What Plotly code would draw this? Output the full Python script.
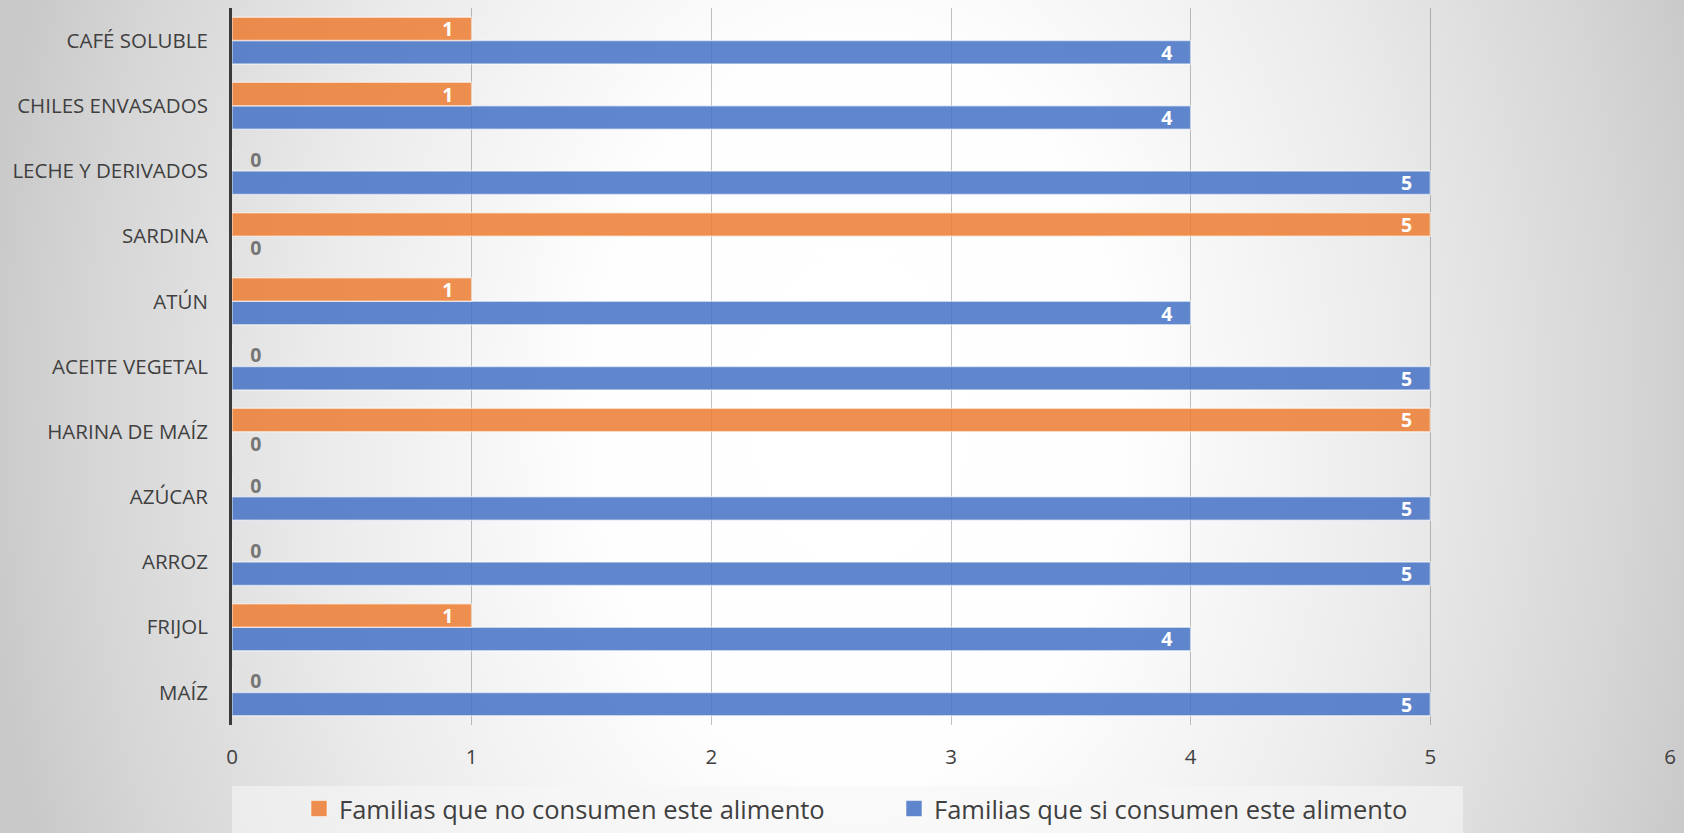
import base64
import plotly.graph_objects as go

# Food categories, bottom to top as plotted
categorias = ["MAÍZ", "FRIJOL", "ARROZ", "AZÚCAR", "HARINA DE MAÍZ", "ACEITE VEGETAL",
              "ATÚN", "SARDINA", "LECHE Y DERIVADOS", "CHILES ENVASADOS", "CAFÉ SOLUBLE"]
no_consumen = [0, 1, 0, 0, 5, 0, 1, 5, 0, 1, 1]
si_consumen = [5, 4, 5, 5, 0, 5, 4, 0, 5, 4, 4]
nombre_no = "Familias que no consumen este alimento"
nombre_si = "Familias que si consumen este alimento"
ticks_x = [0, 1, 2, 3, 4, 5, 6]

W, H = 1684, 833
ML, MR, MT, MB = 232, 14, 8, 108
PW, PH = W - ML - MR, H - MT - MB

FONT = "Open Sans"
TXT = "#404040"
AZUL = "rgba(68,114,196,0.85)"
NARANJA = "rgba(237,125,49,0.85)"
BORDE = "rgba(255,255,255,0.55)"


def etiquetas(vals):
    # value label text, padded so it sits off the bar end / axis
    return [f"{v}   " if v > 0 else f"   {v}" for v in vals]


def posiciones(vals):
    return ["inside" if v > 0 else "outside" for v in vals]


def barras(vals, nombre, color):
    return go.Bar(
        y=categorias, x=vals, orientation="h", name=nombre, showlegend=False,
        marker=dict(color=color, line=dict(color=BORDE, width=1.5)),
        text=etiquetas(vals), textposition=posiciones(vals),
        insidetextanchor="end", textangle=0, constraintext="none", cliponaxis=False,
        insidetextfont=dict(family=FONT, size=19.5, color="white", weight="bold"),
        outsidetextfont=dict(family=FONT, size=19.5, color="#767676", weight="bold"),
    )


def muestra(nombre, color):
    # legend swatch (larger square than the default bar icon)
    return go.Scatter(
        x=[None], y=[None], mode="markers", name=nombre, showlegend=True,
        marker=dict(symbol="square", size=16, color=color, line=dict(color=BORDE, width=1)),
    )


fig = go.Figure()
fig.add_trace(barras(si_consumen, nombre_si, AZUL))
fig.add_trace(barras(no_consumen, nombre_no, NARANJA))
fig.add_trace(muestra(nombre_no, NARANJA))
fig.add_trace(muestra(nombre_si, AZUL))

# Radial background shading for the whole page (light centre, grey edges)
CX, CY, R = 860, 410, 880
svg = (
    f'<svg xmlns="http://www.w3.org/2000/svg" width="{W}" height="{H}">'
    f'<defs><radialGradient id="g" gradientUnits="userSpaceOnUse" cx="{CX}" cy="{CY}" r="{R}" '
    f'gradientTransform="translate({CX} {CY}) scale(1 1.4) translate({-CX} {-CY})">'
    '<stop offset="0" stop-color="#ffffff"/>'
    '<stop offset="0.3" stop-color="#fefefe"/>'
    '<stop offset="0.6" stop-color="#ececec"/>'
    '<stop offset="0.88" stop-color="#d5d5d5"/>'
    '<stop offset="1" stop-color="#c9c9c9"/>'
    '</radialGradient></defs>'
    f'<rect width="{W}" height="{H}" fill="url(#g)"/></svg>'
)
src = "data:image/svg+xml;base64," + base64.b64encode(svg.encode()).decode()

fig.update_layout(
    width=W, height=H,
    margin=dict(l=ML, r=MR, t=MT, b=MB, pad=0, autoexpand=False),
    paper_bgcolor="rgba(0,0,0,0)", plot_bgcolor="rgba(0,0,0,0)",
    barmode="group", bargap=0.28, bargroupgap=0,
    font=dict(family=FONT, color=TXT),
    legend=dict(
        orientation="h", x=(299 - ML) / PW, xanchor="left",
        y=-(809 - (MT + PH)) / PH, yanchor="middle",
        entrywidth=550, entrywidthmode="pixels", traceorder="normal",
        font=dict(family=FONT, size=25.5, color=TXT),
        bgcolor="rgba(0,0,0,0)",
    ),
    images=[dict(
        source=src, xref="paper", yref="paper",
        x=-ML / PW, y=1 + MT / PH, sizex=W / PW, sizey=H / PH,
        xanchor="left", yanchor="top", sizing="stretch", layer="below",
    )],
    shapes=[dict(
        type="rect", xref="paper", yref="paper", layer="below",
        x0=0, x1=(1463 - ML) / PW, y0=-(833 - (MT + PH)) / PH, y1=-(786 - (MT + PH)) / PH,
        fillcolor="rgba(246,246,246,0.6)", line=dict(width=0),
    )],
)
fig.update_xaxes(
    range=[0, 6], tickvals=ticks_x, showgrid=True, gridcolor="rgba(0,0,0,0.24)", gridwidth=1,
    zeroline=False, showline=False, ticks="",
    tickfont=dict(family=FONT, size=20.5, color=TXT), ticklabelstandoff=17,
)
fig.update_yaxes(
    type="category", categoryorder="array", categoryarray=categorias,
    showgrid=False, zeroline=False, showline=True, linecolor="#3a3a3a", linewidth=3,
    ticks="", ticklabelstandoff=17,
    tickfont=dict(family=FONT, size=20.5, color=TXT),
)

fig.write_html("out.html")
